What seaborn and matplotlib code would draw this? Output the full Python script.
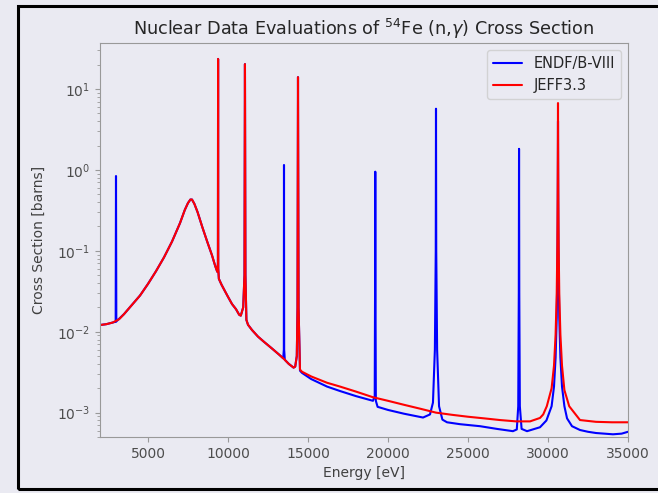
import numpy as np
import pandas as pd
import matplotlib
matplotlib.use("Agg")
import matplotlib.pyplot as plt
from matplotlib.patches import Rectangle
import seaborn as sns

# energy [eV] and cross section [barns]
endf_energy = [2000, 2400, 2800, 2980, 3000, 3020, 3500, 4000, 4500, 5000, 5500, 6000,
               6500, 7000, 7300, 7500, 7650, 7750, 7900, 8100, 8400, 8700, 9000, 9200,
               9330, 9370, 9380, 9390, 9430, 9600, 9800, 10000, 10250, 10500, 10700,
               10800, 10950, 11030, 11060, 11090, 11150, 11250, 11500, 11875, 12250,
               12750, 13200, 13450, 13490, 13500, 13510, 13550, 13800, 14100, 14200,
               14300, 14345, 14375, 14410, 14500, 14625, 15200, 16190, 17000, 18000,
               19060, 19170, 19195, 19205, 19215, 19240, 19350, 20000, 21000, 22190,
               22625, 22810, 22930, 22985, 23000, 23015, 23070, 23190, 23400, 23690,
               24500, 25750, 26800, 27810, 28050, 28140, 28175, 28190, 28205, 28240,
               28350, 28690, 29500, 29900, 30225, 30375, 30475, 30545, 30585, 30605,
               30615, 30625, 30635, 30645, 30665, 30705, 30775, 30875, 31025, 31190,
               31500, 32000, 32500, 33000, 34060, 34600, 35000]
endf_xs = [0.0121, 0.0124, 0.0130, 0.0133, 0.84, 0.0134, 0.0165, 0.0215, 0.028, 0.039, 0.056, 0.083,
           0.13, 0.22, 0.32, 0.39, 0.43, 0.43, 0.38, 0.30, 0.195, 0.13, 0.088, 0.065,
           0.055, 0.07, 23.5, 0.06, 0.045, 0.038, 0.032, 0.027, 0.022, 0.019, 0.0162,
           0.0158, 0.02, 0.05, 20.3, 0.05, 0.014, 0.0122, 0.0105, 0.0087, 0.0075,
           0.0062, 0.0052, 0.0047, 0.006, 1.15, 0.006, 0.0045, 0.0040, 0.0036, 0.0037,
           0.005, 0.02, 14.0, 0.02, 0.0033, 0.0031, 0.0026, 0.0021, 0.00185, 0.0016,
           0.0014, 0.0016, 0.05, 0.95, 0.05, 0.0014, 0.00118, 0.00108, 0.00097, 0.00087,
           0.00095, 0.00133, 0.006, 0.1, 5.7, 0.1, 0.006, 0.0012, 0.00082, 0.00076,
           0.00072, 0.00068, 0.00063, 0.00059, 0.00062, 0.0012, 0.03, 1.82, 0.03, 0.0012,
           0.00063, 0.00059, 0.00066, 0.0008, 0.0012, 0.0021, 0.0048, 0.015, 0.059, 0.23,
           0.8, 4.0, 0.8, 0.23, 0.059, 0.015, 0.0048, 0.0021, 0.0012, 0.00085,
           0.00068, 0.00061, 0.00058, 0.00056, 0.00054, 0.00055, 0.00058]

jeff_energy = [2000, 2400, 2800, 3200, 3500, 4000, 4500, 5000, 5500, 6000,
               6500, 7000, 7300, 7500, 7650, 7750, 7900, 8100, 8400, 8700, 9000, 9200,
               9330, 9370, 9380, 9390, 9430, 9600, 9800, 10000, 10250, 10500, 10700,
               10800, 10950, 11030, 11060, 11090, 11150, 11250, 11500, 11875, 12250,
               12750, 13200, 13500, 13800, 14100, 14200, 14300, 14345, 14375, 14410,
               14500, 14625, 15200, 16190, 17000, 18000, 19060, 20000, 21000, 22000,
               23000, 24000, 25000, 26000, 27000, 28000, 28880, 29500, 29700, 29925,
               30225, 30375, 30475, 30545, 30585, 30605, 30615, 30625, 30635, 30645,
               30665, 30705, 30775, 30875, 31025, 31325, 32000, 33000, 34000, 35000]
jeff_xs = [0.0121, 0.0124, 0.0130, 0.0143, 0.0165, 0.0215, 0.028, 0.039, 0.056, 0.083,
           0.13, 0.22, 0.32, 0.39, 0.43, 0.43, 0.38, 0.30, 0.195, 0.13, 0.088, 0.065,
           0.055, 0.07, 23.5, 0.06, 0.045, 0.038, 0.032, 0.027, 0.022, 0.019, 0.0162,
           0.0158, 0.02, 0.05, 20.3, 0.05, 0.014, 0.0122, 0.0105, 0.0087, 0.0075,
           0.0062, 0.0052, 0.0046, 0.0040, 0.0036, 0.0037, 0.005, 0.02, 14.0, 0.02,
           0.0034, 0.0032, 0.0028, 0.00234, 0.0021, 0.00182, 0.00155, 0.0014, 0.00125, 0.00112,
           0.0010, 0.00094, 0.00089, 0.00085, 0.00081, 0.00078, 0.00078, 0.00086, 0.00095, 0.0012,
           0.0020, 0.0038, 0.0092, 0.029, 0.117, 0.47, 1.47, 6.7, 1.47, 0.47,
           0.117, 0.029, 0.0092, 0.0038, 0.0019, 0.0012, 0.00081, 0.00077, 0.00076, 0.00076]

bg = "#eaeaf2"
sns.set_style("ticks", rc={"axes.facecolor": bg, "figure.facecolor": bg,
                           "axes.edgecolor": "0.6", "xtick.color": "0.6", "ytick.color": "0.6",
                           "axes.labelcolor": "0.25", "text.color": "0.15"})
plt.rcParams["font.family"] = ["DejaVu Sans"]
plt.rcParams["xtick.labelcolor"] = "0.3"
plt.rcParams["ytick.labelcolor"] = "0.3"

endf = pd.DataFrame({"energy": endf_energy, "xs": endf_xs})
jeff = pd.DataFrame({"energy": jeff_energy, "xs": jeff_xs})

fig = plt.figure(figsize=(6.58, 4.93), dpi=100)
ax = fig.add_axes([100/658, 1-437/493, 528/658, 394/493])

sns.lineplot(data=endf, x="energy", y="xs", color="blue", lw=1.5, label="ENDF/B-VIII",
             estimator=None, sort=False, ax=ax)
sns.lineplot(data=jeff, x="energy", y="xs", color="red", lw=1.5, label="JEFF3.3",
             estimator=None, sort=False, ax=ax)

ax.set_yscale("log")
ax.set_xlim(2000, 35000)
ax.set_ylim(5.0e-4, 37)
ax.set_xticks(range(5000, 35001, 5000))
ax.set_xlabel("Energy [eV]")
ax.set_ylabel("Cross Section [barns]", labelpad=8)
ax.set_title(r"Nuclear Data Evaluations of $^{54}$Fe (n,$\gamma$) Cross Section", fontsize=12.7)
ax.legend(loc="upper right", fontsize=10.5)

# frame of the screenshot
fig.add_artist(Rectangle((18/658, 1-489/493), 2, (489-5.5)/493, transform=fig.transFigure,
                         fill=False, edgecolor="black", lw=2.2))

fig.savefig("out.png", dpi=100)
